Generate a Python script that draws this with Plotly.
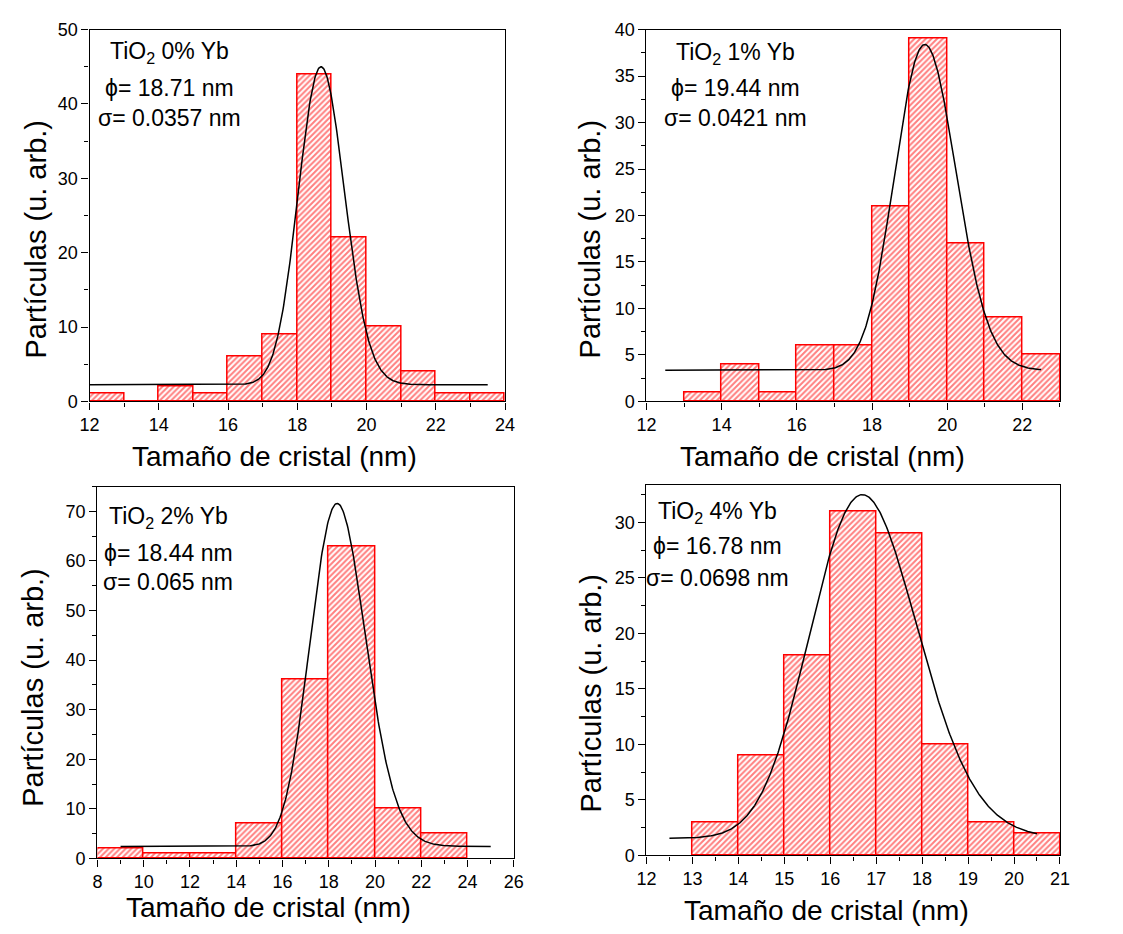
import numpy as np
import plotly.graph_objects as go

W, H = 1123, 934

# ---- Histogram data (bin left edges, bin width, counts) ----
p0_left = [12, 13, 14, 15, 16, 17, 18, 19, 20, 21, 22, 23]
p0_counts = [1, 0, 2, 1, 6, 9, 44, 22, 10, 4, 1, 1]
p0_width = 1

p1_left = [13, 14, 15, 16, 17, 18, 19, 20, 21, 22]
p1_counts = [1, 4, 1, 6, 6, 21, 39, 17, 9, 5]
p1_width = 1

p2_left = [8, 10, 12, 14, 16, 18, 20, 22]
p2_counts = [2, 1, 1, 7, 36, 63, 10, 5]
p2_width = 2

p4_left = [13, 14, 15, 16, 17, 18, 19, 20]
p4_counts = [3, 9, 18, 31, 29, 10, 3, 2]
p4_width = 1

# ---- Log-normal fit parameters (xc = phi, w = sigma), baseline, peak height, x span ----
fit_xc = [18.71, 19.44, 18.44, 16.78]
fit_w = [0.0357, 0.0421, 0.065, 0.0698]
fit_y0 = [2.25, 3.35, 2.4, 1.55]
fit_peak = [45.0, 38.4, 71.6, 32.5]
fit_span = [(12, 23.5), (12.5, 22.5), (9, 25), (12.5, 20.5)]

labels = ["TiO<sub>2</sub> 0% Yb", "TiO<sub>2</sub> 1% Yb",
          "TiO<sub>2</sub> 2% Yb", "TiO<sub>2</sub> 4% Yb"]
phi_txt = ["18.71 nm", "19.44 nm", "18.44 nm", "16.78 nm"]
sigma_txt = ["0.0357 nm", "0.0421 nm", "0.065 nm", "0.0698 nm"]

hists = [(p0_left, p0_counts, p0_width), (p1_left, p1_counts, p1_width),
         (p2_left, p2_counts, p2_width), (p4_left, p4_counts, p4_width)]

# ---- Panel geometry in pixels: (left, right, top, bottom) ----
boxes = [(81, 504, 20, 400), (648, 1069, 20, 400),
         (89, 513, 487, 867), (648, 1069, 485, 864)]
xranges = [[12, 24], [12, 23], [8, 26], [12, 21]]
yranges = [[0, 50], [0, 40], [0, 75], [0, 33.4]]
xdt = [2, 2, 2, 1]
ydt = [10, 5, 10, 5]

# annotation positions (pixels): text block center x, line centers y
ann_x = [162, 739, 161, 720]
ann_y = [(43, 80, 110), (44, 80, 110), (519, 555, 585), (513, 548, 580)]
xt_pos = [(269, 456), (827, 456), (263, 917), (831, 920)]
yt_pos = [(26, 234), (591, 234), (24, 692), (592, 698)]

FONT = "Liberation Sans, Arial, sans-serif"
RED = "#ff0000"

def px(x):
    return x / W

def py(y):
    return 1 - y / H

fig = go.Figure()
layout = dict(
    width=W, height=H, margin=dict(l=0, r=0, t=0, b=0),
    paper_bgcolor="white", plot_bgcolor="white", showlegend=False,
    font=dict(family=FONT, color="black"),
)
annotations = []

for i in range(4):
    sfx = "" if i == 0 else str(i + 1)
    left, counts, width = hists[i]
    centers = [l + width / 2 for l in left]
    fig.add_trace(go.Bar(
        x=centers, y=counts, width=width,
        marker=dict(color="white",
                    line=dict(color=RED, width=1.5),
                    pattern=dict(shape="/", fgcolor=RED, bgcolor="white",
                                 size=4, solidity=0.5, fillmode="overlay")),
        xaxis="x" + sfx, yaxis="y" + sfx, hoverinfo="x+y",
    ))
    xs = np.linspace(fit_span[i][0], fit_span[i][1], 600)
    f = np.exp(-np.log(xs / fit_xc[i]) ** 2 / (2 * fit_w[i] ** 2)) / xs
    ys = fit_y0[i] + (fit_peak[i] - fit_y0[i]) * f / f.max()
    fig.add_trace(go.Scatter(x=xs, y=ys, mode="lines",
                             line=dict(color="black", width=1.5),
                             xaxis="x" + sfx, yaxis="y" + sfx, hoverinfo="skip"))

    l, r, t, b = boxes[i]
    common = dict(showgrid=False, zeroline=False, showline=True, linecolor="black",
                  linewidth=1.4, mirror=True, ticks="outside", ticklen=7,
                  tickwidth=1.3, tickcolor="black",
                  tickfont=dict(size=18, family=FONT, color="black"))
    layout["xaxis" + sfx] = dict(
        common, domain=[px(l), px(r)], range=xranges[i], dtick=xdt[i], tick0=0,
        anchor="y" + sfx,
        minor=dict(ticks="outside", ticklen=4, dtick=xdt[i] / 2, tickcolor="black"))
    layout["yaxis" + sfx] = dict(
        common, domain=[py(b), py(t)], range=yranges[i], dtick=ydt[i], tick0=0,
        anchor="x" + sfx,
        minor=dict(ticks="outside", ticklen=4, dtick=ydt[i] / 2, tickcolor="black"))

    # panel legend text
    lines = [labels[i], "ϕ= " + phi_txt[i], "σ= " + sigma_txt[i]]
    for txt, yy in zip(lines, ann_y[i]):
        annotations.append(dict(text=txt, x=px(ann_x[i]), y=py(yy), xref="paper",
                                yref="paper", showarrow=False, xanchor="center",
                                yanchor="middle", font=dict(size=23, family=FONT)))
    # axis titles
    annotations.append(dict(text="Tamaño de cristal (nm)", x=px(xt_pos[i][0]),
                            y=py(xt_pos[i][1]), xref="paper", yref="paper",
                            showarrow=False, xanchor="center", yanchor="middle",
                            font=dict(size=28, family=FONT)))
    annotations.append(dict(text="Partículas (u. arb.)", x=px(yt_pos[i][0]),
                            y=py(yt_pos[i][1]), xref="paper", yref="paper",
                            showarrow=False, xanchor="center", yanchor="middle",
                            textangle=-90, font=dict(size=29, family=FONT)))

layout["annotations"] = annotations
layout["bargap"] = 0
fig.update_layout(**layout)
fig.write_html("out.html")
